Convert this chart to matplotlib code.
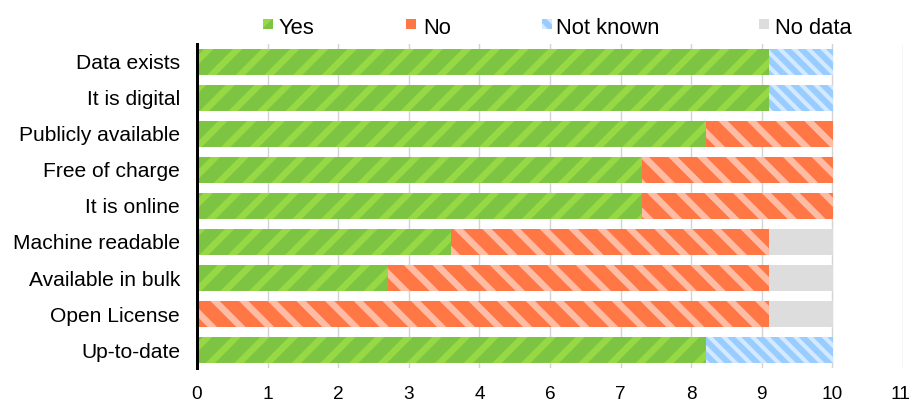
import matplotlib
matplotlib.use("Agg")
import matplotlib.pyplot as plt
from matplotlib.patches import Rectangle
from matplotlib.transforms import ScaledTranslation
import numpy as np

categories = ["Data exists", "It is digital", "Publicly available", "Free of charge",
              "It is online", "Machine readable", "Available in bulk", "Open License",
              "Up-to-date"]
yes = [9, 9, 8, 7, 7, 4, 3, 0, 8]
no = [0, 0, 2, 3, 3, 5, 6, 9, 0]
not_known = [1, 1, 0, 0, 0, 0, 0, 0, 2]
no_data = [0, 0, 0, 0, 0, 1, 1, 1, 0]
series_names = ["Yes", "No", "Not known", "No data"]
tick_positions = [k * 1.11 for k in range(11)]
tick_labels = ["0", "1", "2", "3", "4", "6", "7", "8", "9", "10", "11"]

DPI = 86
W, H = 911, 403
plt.rcParams['font.family'] = ['Liberation Sans', 'DejaVu Sans']

fig = plt.figure(figsize=(W / DPI, H / DPI), dpi=DPI)
ax = fig.add_axes([197 / W, (H - 368) / H, (903 - 197) / W, (368 - 44) / H])

styles = [
    dict(color="#7DC443", edge="#97D845", hatch="/", hlw=5.5),
    dict(color="#FF7744", edge="#FFBCA4", hatch="\\", hlw=5.5),
    dict(color="#99CCFF", edge="#D2E9FF", hatch="\\\\", hlw=3.5),
    dict(color="#DDDDDD", edge="#DDDDDD", hatch=None, hlw=1.0),
]

def set_hlw(p, w):
    if hasattr(p, 'set_hatch_linewidth'):
        p.set_hatch_linewidth(w)

y = np.arange(len(categories))
left = np.zeros(len(categories))
for vals, st in zip([yes, no, not_known, no_data], styles):
    vals = np.array(vals, dtype=float)
    bars = ax.barh(y, vals, left=left, height=0.72, color=st['color'],
                   edgecolor=st['edge'], hatch=st['hatch'], linewidth=0, zorder=2)
    for p in bars.patches:
        set_hlw(p, st['hlw'])
    left += vals

ax.set_ylim(len(categories) - 0.5, -0.5)
ax.set_xlim(0, 11.1)
ax.set_xticks(tick_positions)
ax.set_xticklabels(tick_labels)
ax.set_yticks(y)
ax.set_yticklabels(categories)
ax.tick_params(axis='y', length=0, pad=17 * 72 / DPI, labelsize=21 * 72 / DPI)
ax.tick_params(axis='x', length=0, pad=18 * 72 / DPI, labelsize=19 * 72 / DPI)
ax.grid(axis='x', color="#D4D4D4", linewidth=1.2, zorder=0)
ax.set_axisbelow(True)
for s in ['top', 'right', 'bottom']:
    ax.spines[s].set_visible(False)
ax.spines['left'].set_linewidth(3 * 72 / DPI)
ax.spines['left'].set_color('black')
ax.spines['left'].set_zorder(5)

last = ax.get_xticklabels()[-1]
last.set_transform(last.get_transform() + ScaledTranslation(-3 / DPI, 0, fig.dpi_scale_trans))

# legend
patch_x = [263, 406, 542, 759]
text_x = [279, 423, 556, 775]
for name, st, px, tx in zip(series_names, styles, patch_x, text_x):
    r = Rectangle((px / W, (H - 29) / H), 10 / W, 10 / H, transform=fig.transFigure,
                  facecolor=st['color'], edgecolor=st['edge'], hatch=st['hatch'],
                  linewidth=0)
    set_hlw(r, st['hlw'])
    fig.patches.append(r)
    fig.text(tx / W, (H - 28.5) / H, name, ha='left', va='center',
             fontsize=22 * 72 / DPI, color='black')

fig.savefig("out.png", dpi=DPI)
